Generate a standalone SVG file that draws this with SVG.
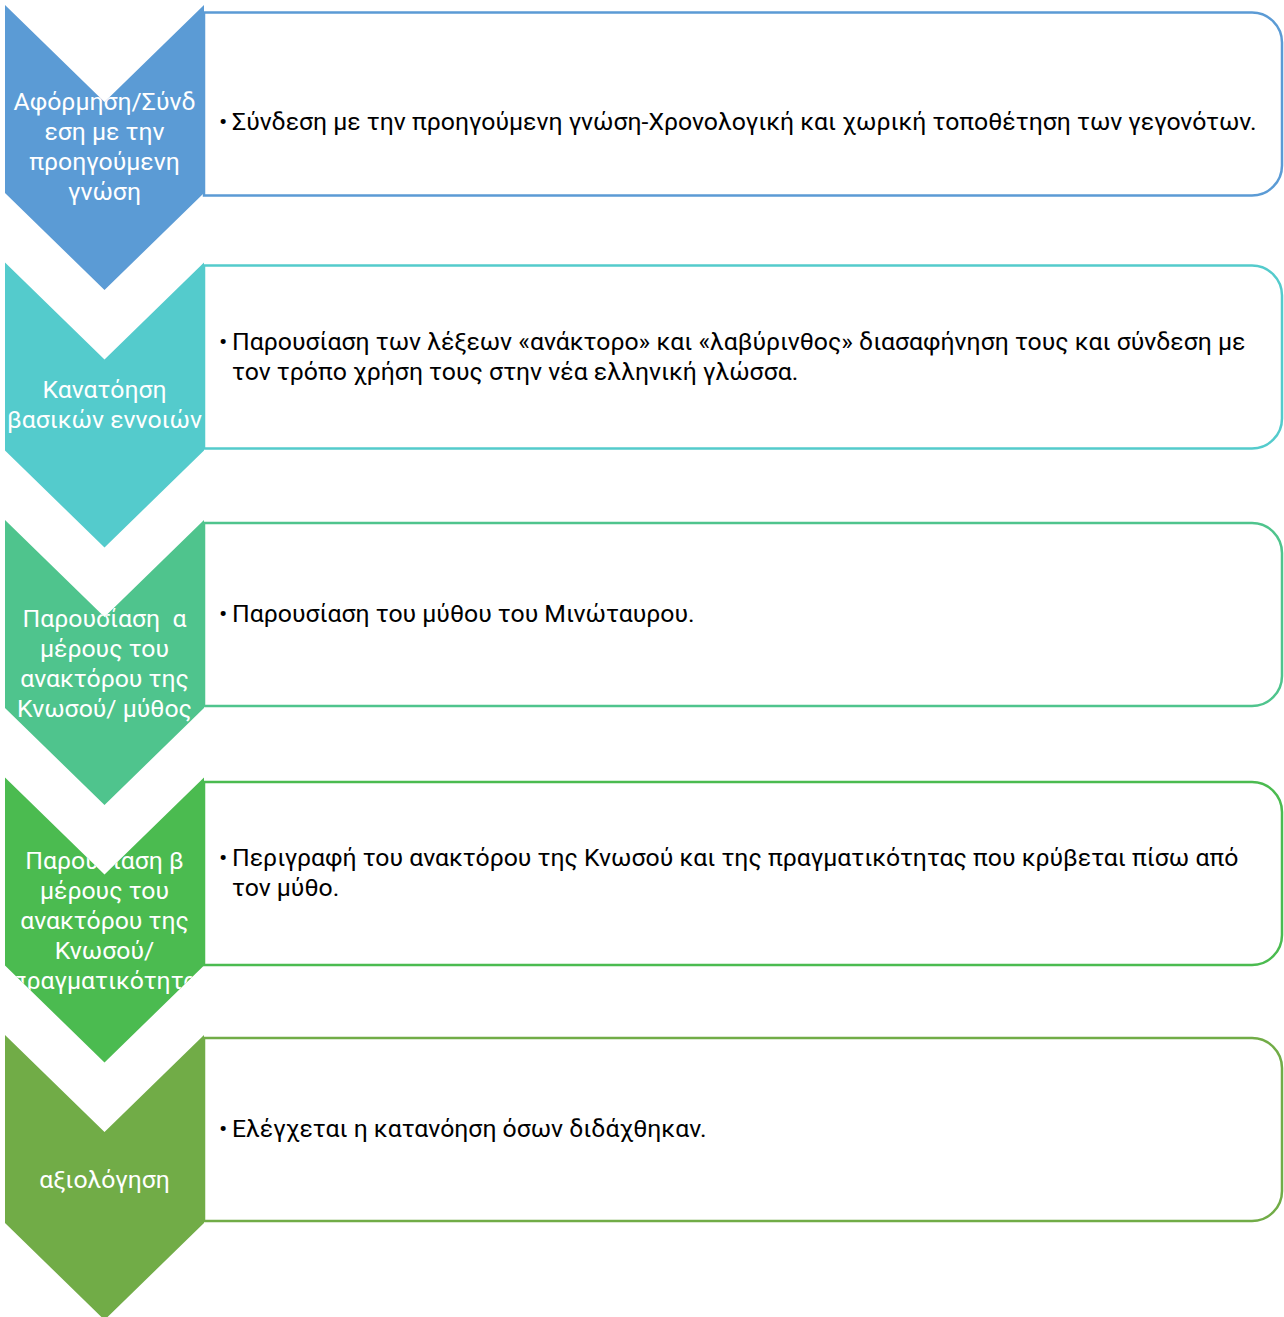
<svg xmlns="http://www.w3.org/2000/svg" width="1284" height="1317" viewBox="0 0 1284 1317">
<style>
.ct{font-family:Roboto,"Liberation Sans",sans-serif;font-size:24.8px;fill:#ffffff;text-anchor:middle}
.bt{font-family:Roboto,"Liberation Sans",sans-serif;font-size:24.8px;fill:#000000}
.box{fill:#ffffff;stroke-width:2.5}
</style>
<defs>
<clipPath id="c1"><path d="M5,5 L104.5,102 L204,5 L204,193 L104.5,290 L5,193 Z"/></clipPath>
<clipPath id="c2"><path d="M5,262.5 L104.5,359.5 L204,262.5 L204,450.5 L104.5,547.5 L5,450.5 Z"/></clipPath>
<clipPath id="c3"><path d="M5,520 L104.5,617 L204,520 L204,708 L104.5,805 L5,708 Z"/></clipPath>
<clipPath id="c4"><path d="M5,777.5 L104.5,874.5 L204,777.5 L204,965.5 L104.5,1062.5 L5,965.5 Z"/></clipPath>
<clipPath id="c5"><path d="M5,1035 L104.5,1132 L204,1035 L204,1223 L104.5,1320 L5,1223 Z"/></clipPath>
</defs>
<g id="connectors"></g>
<g id="step1">
<path class="box" stroke="#5b9bd5" d="M204,12.5 H1252 A30,30 0 0 1 1282,42.5 V165.5 A30,30 0 0 1 1252,195.5 H204 Z"/>
<path fill="#5b9bd5" d="M5,5 L104.5,102 L204,5 L204,193 L104.5,290 L5,193 Z"/>
<g clip-path="url(#c1)">
<text class="ct" x="104.5" y="110">Αφόρμηση/Σύνδ</text>
<text class="ct" x="104.5" y="140">εση με την</text>
<text class="ct" x="104.5" y="170">προηγούμενη</text>
<text class="ct" x="104.5" y="200">γνώση</text>
</g>
<text class="bt" x="219" y="130">•</text>
<text class="bt" x="232" y="130">Σύνδεση με την προηγούμενη γνώση-Χρονολογική και χωρική τοποθέτηση των γεγονότων.</text>
</g>
<g id="step2">
<path class="box" stroke="#54cbcc" d="M204,265.5 H1252 A30,30 0 0 1 1282,295.5 V418.5 A30,30 0 0 1 1252,448.5 H204 Z"/>
<path fill="#54cbcc" d="M5,262.5 L104.5,359.5 L204,262.5 L204,450.5 L104.5,547.5 L5,450.5 Z"/>
<g clip-path="url(#c2)">
<text class="ct" x="104.5" y="398">Κανατόηση</text>
<text class="ct" x="104.5" y="428">βασικών εννοιών</text>
</g>
<text class="bt" x="219" y="350">•</text>
<text class="bt" x="232" y="350">Παρουσίαση των λέξεων «ανάκτορο» και «λαβύρινθος» διασαφήνηση τους και σύνδεση με</text>
<text class="bt" x="232" y="380">τον τρόπο χρήση τους στην νέα ελληνική γλώσσα.</text>
</g>
<g id="step3">
<path class="box" stroke="#4fc48d" d="M204,523 H1252 A30,30 0 0 1 1282,553 V676 A30,30 0 0 1 1252,706 H204 Z"/>
<path fill="#4fc48d" d="M5,520 L104.5,617 L204,520 L204,708 L104.5,805 L5,708 Z"/>
<g clip-path="url(#c3)">
<text class="ct" x="104.5" y="627" xml:space="preserve">Παρουσίαση  α</text>
<text class="ct" x="104.5" y="657">μέρους του</text>
<text class="ct" x="104.5" y="687">ανακτόρου της</text>
<text class="ct" x="104.5" y="717">Κνωσού/ μύθος</text>
</g>
<text class="bt" x="219" y="622">•</text>
<text class="bt" x="232" y="622">Παρουσίαση του μύθου του Μινώταυρου.</text>
</g>
<g id="step4">
<path class="box" stroke="#4bbb50" d="M204,782 H1252 A30,30 0 0 1 1282,812 V935 A30,30 0 0 1 1252,965 H204 Z"/>
<path fill="#4bbb50" d="M5,777.5 L104.5,874.5 L204,777.5 L204,965.5 L104.5,1062.5 L5,965.5 Z"/>
<g clip-path="url(#c4)">
<text class="ct" x="104.5" y="869">Παρουσίαση β</text>
<text class="ct" x="104.5" y="899">μέρους του</text>
<text class="ct" x="104.5" y="929">ανακτόρου της</text>
<text class="ct" x="104.5" y="959">Κνωσού/</text>
<text class="ct" x="104.5" y="989">πραγματικότητα</text>
</g>
<text class="bt" x="219" y="866">•</text>
<text class="bt" x="232" y="866">Περιγραφή του ανακτόρου της Κνωσού και της πραγματικότητας που κρύβεται πίσω από</text>
<text class="bt" x="232" y="896">τον μύθο.</text>
</g>
<g id="step5">
<path class="box" stroke="#71ac47" d="M204,1038 H1252 A30,30 0 0 1 1282,1068 V1191 A30,30 0 0 1 1252,1221 H204 Z"/>
<path fill="#71ac47" d="M5,1035 L104.5,1132 L204,1035 L204,1223 L104.5,1320 L5,1223 Z"/>
<g clip-path="url(#c5)">
<text class="ct" x="104.5" y="1188">αξιολόγηση</text>
</g>
<text class="bt" x="219" y="1137">•</text>
<text class="bt" x="232" y="1137">Ελέγχεται η κατανόηση όσων διδάχθηκαν.</text>
</g>
</svg>
